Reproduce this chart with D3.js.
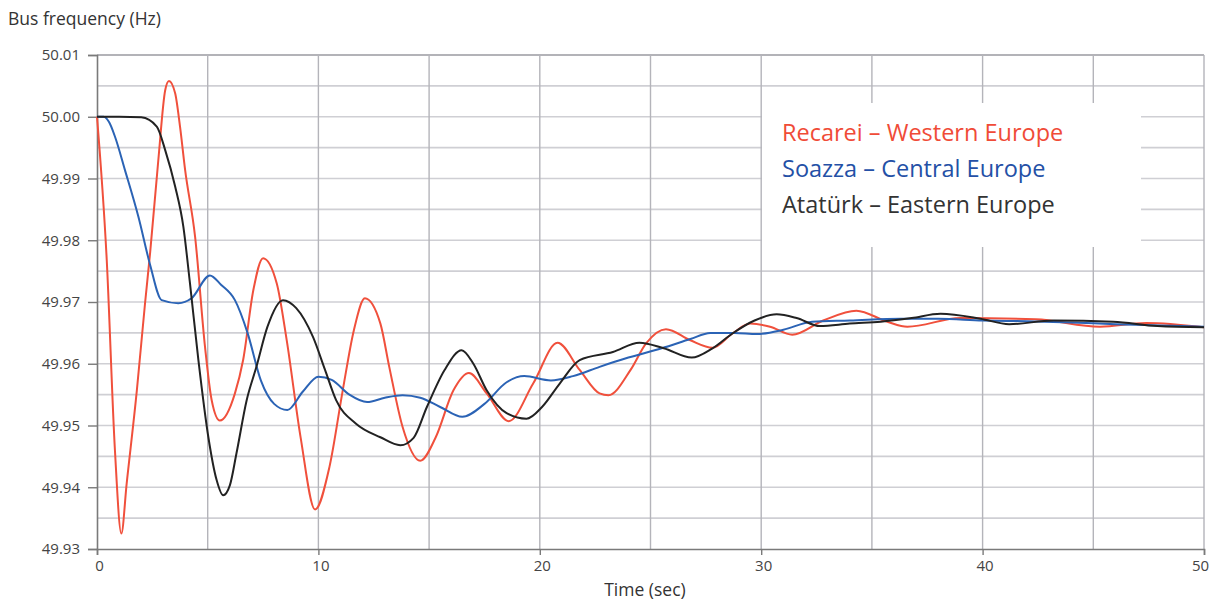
<!DOCTYPE html>
<html>
<head>
<meta charset="utf-8">
<script src="https://cdn.jsdelivr.net/npm/d3@7"></script>
<style>
  body { margin: 0; background: #fff; }
  .tick text { font-family: "Open Sans", sans-serif; fill: #444; }
</style>
</head>
<body>
<div id="freq-chart"></div>
<script>
// time (sec) and bus frequency (Hz)
var recareiT = [0, 0.44, 0.81, 1.1, 1.34, 1.8, 2.17, 2.4, 2.77, 3.08, 3.25, 3.53, 3.75, 3.98, 4.43, 4.88, 5.18, 5.55, 6.23, 6.6, 7.06, 7.5, 8.12, 8.57, 9.2, 9.85, 10.5, 11.1, 11.6, 12.1, 12.8, 13.2, 13.8, 14.6, 15.3, 16.1, 16.8, 17.6, 18.6, 19.7, 20.8, 21.8, 22.7, 23.1, 24.1, 24.8, 25.7, 26.8, 27.8, 28.7, 29.5, 30.4, 31.4, 32.8, 34.3, 35.7, 36.6, 39, 42.4, 45.3, 47.4, 50];
var recareiF = [50.000, 49.9768, 49.946, 49.9325, 49.9406, 49.9557, 49.9698, 49.978, 49.993, 50.0043, 50.0058, 50.0038, 49.9984, 49.9914, 49.9806, 49.9627, 49.9541, 49.9508, 49.9552, 49.9606, 49.9719, 49.9771, 49.973, 49.9638, 49.948, 49.9364, 49.9433, 49.9557, 49.9654, 49.9706, 49.9665, 49.9595, 49.9498, 49.9443, 49.9481, 49.9557, 49.9585, 49.9552, 49.9507, 49.9568, 49.9634, 49.959, 49.9552, 49.9549, 49.959, 49.9633, 49.9656, 49.9638, 49.9626, 49.9649, 49.9665, 49.966, 49.9647, 49.967, 49.9686, 49.9668, 49.966, 49.9674, 49.9672, 49.966, 49.9666, 49.9659];

var soazzaT = [0, 0.3, 0.55, 0.81, 1.26, 1.87, 2.4, 2.92, 3.67, 4.27, 5.1, 5.6, 6.23, 6.8, 7.4, 8.0, 8.6, 9.3, 10.0, 10.6, 11.4, 12.2, 13.0, 13.8, 14.6, 15.5, 16.5, 17.5, 18.5, 19.3, 20.5, 21.5, 22.7, 24, 25.5, 26.8, 27.7, 28.8, 29.8, 31, 32.3, 34, 36.3, 38, 40, 42, 44, 46, 48, 50];
var soazzaF = [50.000, 50.000, 49.9991, 49.9968, 49.9914, 49.9838, 49.976, 49.9703, 49.9698, 49.9706, 49.9743, 49.9728, 49.9703, 49.965, 49.9573, 49.9535, 49.9525, 49.9555, 49.9579, 49.9574, 49.955, 49.9538, 49.9545, 49.9549, 49.9545, 49.953, 49.9514, 49.9535, 49.957, 49.958, 49.9573, 49.958, 49.9595, 49.961, 49.9625, 49.964, 49.965, 49.965, 49.9648, 49.9655, 49.9668, 49.967, 49.9673, 49.9673, 49.967, 49.9669, 49.9667, 49.9664, 49.9662, 49.966];

var ataturkT = [0, 1.0, 2.0, 2.7, 3.08, 3.53, 3.9, 4.2, 4.58, 5.03, 5.4, 5.7, 6.0, 6.3, 6.76, 7.2, 7.7, 8.4, 9.0, 9.76, 10.3, 10.8, 11.7, 12.8, 13.7, 14.3, 14.9, 15.7, 16.47, 17.0, 17.6, 18.5, 19.4, 20.1, 20.9, 21.8, 23.3, 24.5, 25.6, 26.86, 27.8, 28.7, 29.7, 30.7, 31.6, 32.65, 34, 35.4, 36.8, 38.1, 39.9, 41.2, 43.2, 45.9, 47.9, 50];
var ataturkF = [50.000, 50.000, 49.9999, 49.9984, 49.9946, 49.9887, 49.9822, 49.973, 49.9606, 49.9481, 49.9412, 49.9387, 49.9403, 49.9455, 49.9541, 49.9595, 49.966, 49.9703, 49.969, 49.9643, 49.959, 49.9541, 49.9503, 49.9481, 49.9468, 49.948, 49.953, 49.959, 49.9622, 49.960, 49.9557, 49.952, 49.9511, 49.953, 49.9568, 49.9606, 49.9619, 49.9634, 49.9625, 49.961, 49.9625, 49.9649, 49.967, 49.968, 49.9674, 49.9661, 49.9665, 49.9668, 49.9674, 49.9681, 49.9673, 49.9664, 49.967, 49.9668, 49.9661, 49.9659];

var seriesNames = ["Recarei – Western Europe", "Soazza – Central Europe", "Atatürk – Eastern Europe"];
var seriesColours = ["#f0503c", "#2b63b5", "#222222"];
var legendColours = ["#f04b37", "#2450a6", "#333333"];

var xTicks = [0, 10, 20, 30, 40, 50];
var yTicks = [49.93, 49.94, 49.95, 49.96, 49.97, 49.98, 49.99, 50.00, 50.01];

function createFreqChart(){

    var margin = { left:97, right:5, top:55, bottom:54 };
    var width = 1209 - margin.left - margin.right,
        height = 603 - margin.top - margin.bottom;

    var svg = d3.select("#freq-chart")
        .append("svg")
            .attr("width", width + margin.left + margin.right)
            .attr("height", height + margin.top + margin.bottom)
        .append("g")
            .attr("transform", "translate(" + margin.left + "," + margin.top + ")");

    var xScale = d3.scaleLinear().domain([0, 50]).range([0, width]);
    var yScale = d3.scaleLinear().domain([49.93, 50.01]).range([height, 0]);

    // grid
    svg.append("g")
        .selectAll("line")
        .data(d3.range(49.935, 50.0101, 0.005))
        .enter().append("line")
            .attr("x1", 0).attr("x2", width)
            .attr("y1", function(d){ return yScale(d); })
            .attr("y2", function(d){ return yScale(d); })
            .style("stroke", function(d){ return d > 50.009 ? "#9a9aa0" : "#cfcfd4"; })
            .style("stroke-width", "1.6px");

    svg.append("g")
        .selectAll("line")
        .data(d3.range(5, 51, 5))
        .enter().append("line")
            .attr("x1", function(d){ return xScale(d); })
            .attr("x2", function(d){ return xScale(d); })
            .attr("y1", 0).attr("y2", height)
            .style("stroke", "#b4b4ba")
            .style("stroke-width", "1.4px");

    // axes
    var yaxis = d3.axisLeft(yScale).tickValues(yTicks)
        .tickFormat(d3.format(".2f")).tickSize(9).tickPadding(8);
    var xaxis = d3.axisBottom(xScale).tickValues(xTicks)
        .tickFormat(d3.format("d")).tickSize(6).tickPadding(5);

    var gy = svg.append("g").call(yaxis);
    var gx = svg.append("g")
        .attr("transform", "translate(0," + height + ")")
        .call(xaxis);

    [gx, gy].forEach(function(g){
        g.select(".domain").style("stroke", "#7a7a7a").style("stroke-width", "1.6px");
        g.selectAll(".tick line").style("stroke", "#7a7a7a").style("stroke-width", "1.4px");
        g.selectAll(".tick text").attr("font-size", "15px");
    });
    gx.selectAll(".tick text")
        .attr("dx", function(d){ return d === 50 ? "-4" : "2"; });

    // legend box (drawn over the grid)
    svg.append("rect")
        .attr("x", 665).attr("y", 48)
        .attr("width", 379).attr("height", 144)
        .style("fill", "#fff");

    // lines
    var line = d3.line()
        .x(function(d){ return xScale(d.t); })
        .y(function(d){ return yScale(d.f); })
        .curve(d3.curveMonotoneX);

    var series = [
        { name: seriesNames[0], t: recareiT, f: recareiF },
        { name: seriesNames[1], t: soazzaT, f: soazzaF },
        { name: seriesNames[2], t: ataturkT, f: ataturkF }
    ].map(function(s, i){
        return {
            name: s.name,
            colour: seriesColours[i],
            values: s.t.map(function(t, j){ return { t: t, f: s.f[j] }; })
        };
    });

    svg.selectAll(".series")
        .data(series)
        .enter().append("path")
            .attr("class", "series")
            .attr("d", function(d){ return line(d.values); })
            .style("fill", "none")
            .style("stroke", function(d){ return d.colour; })
            .style("stroke-width", "2px");

    // legend
    svg.selectAll(".legend")
        .data(seriesNames)
        .enter().append("text")
            .attr("class", "legend")
            .attr("x", 685)
            .attr("y", function(d, i){ return 86 + i * 36; })
            .attr("font-family", "'Open Sans', sans-serif")
            .attr("font-size", "23.5px")
            .style("fill", function(d, i){ return legendColours[i]; })
            .text(function(d){ return d; });

    // axis titles
    svg.append("text")
        .attr("x", -89)
        .attr("y", -30)
        .attr("font-family", "'Open Sans', sans-serif")
        .attr("font-size", "17.5px")
        .style("fill", "#333")
        .text("Bus frequency (Hz)");

    svg.append("text")
        .attr("x", 548)
        .attr("y", height + 47)
        .attr("font-family", "'Open Sans', sans-serif")
        .attr("font-size", "17.5px")
        .attr("text-anchor", "middle")
        .style("fill", "#333")
        .text("Time (sec)");
}

createFreqChart();
</script>
</body>
</html>
